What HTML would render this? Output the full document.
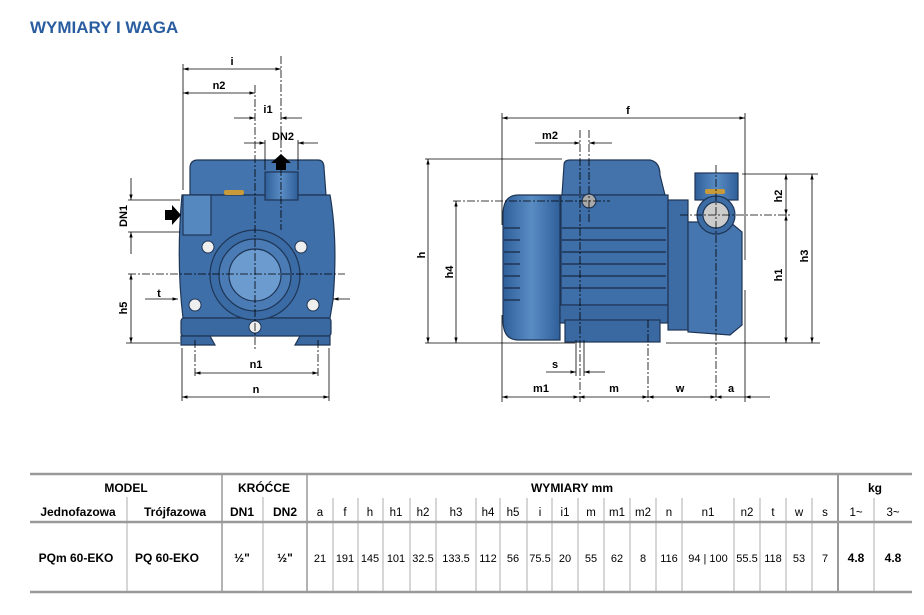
<!DOCTYPE html>
<html><head><meta charset="utf-8"><style>
body{margin:0;background:#fff;width:924px;height:615px;overflow:hidden;font-family:"Liberation Sans",sans-serif}
svg{position:absolute;left:0;top:0}
</style></head><body>
<svg width="924" height="615" viewBox="0 0 924 615" xmlns="http://www.w3.org/2000/svg" font-family="Liberation Sans, sans-serif">
<defs>
<marker id="ar" viewBox="0 0 10 10" refX="10" refY="5" markerWidth="7" markerHeight="7" orient="auto-start-reverse"><path d="M0,2 L10,5 L0,8 z" fill="#000"/></marker>
<linearGradient id="bl" x1="0" x2="1"><stop offset="0" stop-color="#2f5f99"/><stop offset=".5" stop-color="#5a8cc4"/><stop offset="1" stop-color="#2f5f99"/></linearGradient>
</defs>
<text x="30" y="33" font-size="17" font-weight="bold" fill="#2a5da0">WYMIARY I WAGA</text>

<!-- FRONT VIEW -->
<g stroke="#1e3555" stroke-width="1.2">
<path d="M190,168 Q190,160 198,160 L318,160 Q324,160 324,168 L326,195 L190,195 Z" fill="#4474ad"/>
<path d="M182,195 L330,195 Q338,240 333,300 L330,318 L183,318 Q176,260 182,195 Z" fill="#3f6fa8"/>
<rect x="181" y="318" width="150" height="18" rx="3" fill="#3a69a2"/>
<path d="M181,336 L210,336 L215,345 L181,345 Z M330,336 L300,336 L295,345 L330,345 Z" fill="#3a69a2"/>
<rect x="183" y="195" width="28" height="40" fill="#5688c0"/>
<rect x="265" y="172" width="33" height="28" fill="url(#bl)"/>
<circle cx="255" cy="275" r="45" fill="#3b6ba4"/>
<circle cx="255" cy="275" r="36" fill="#4a7bb4"/>
<circle cx="255" cy="275" r="26" fill="#6c9bd0"/>
</g>
<rect x="224" y="190" width="20" height="5" rx="2" fill="#c89a3a"/>
<g fill="#eee" stroke="#1e3555"><circle cx="208" cy="247" r="6"/><circle cx="301" cy="247" r="6"/><circle cx="195" cy="305" r="6"/><circle cx="313" cy="305" r="6"/><circle cx="255" cy="327" r="6"/></g>
<path d="M165,210 L172,210 L172,205 L181,215 L172,225 L172,220 L165,220 Z" fill="#000"/>
<path d="M276,170 L276,163 L271,163 L281,154 L291,163 L286,163 L286,170 Z" fill="#000"/>

<g stroke="#000" stroke-width="0.8" fill="none">
<line x1="183" y1="64" x2="183" y2="190"/>
<line x1="183" y1="69" x2="281" y2="69" marker-start="url(#ar)" marker-end="url(#ar)"/>
<line x1="183" y1="93" x2="255" y2="93" marker-start="url(#ar)" marker-end="url(#ar)"/>
<line x1="234" y1="118" x2="255" y2="118" marker-end="url(#ar)"/>
<line x1="302" y1="118" x2="281" y2="118" marker-end="url(#ar)"/>
<line x1="265" y1="140" x2="265" y2="170"/><line x1="298" y1="140" x2="298" y2="170"/>
<line x1="244" y1="143" x2="265" y2="143" marker-end="url(#ar)"/>
<line x1="318" y1="143" x2="298" y2="143" marker-end="url(#ar)"/>
<line x1="128" y1="200" x2="180" y2="200"/><line x1="128" y1="232" x2="180" y2="232"/>
<line x1="131" y1="178" x2="131" y2="200" marker-end="url(#ar)"/>
<line x1="131" y1="254" x2="131" y2="232" marker-end="url(#ar)"/>
<line x1="131" y1="274" x2="131" y2="343" marker-start="url(#ar)" marker-end="url(#ar)"/>
<line x1="126" y1="343" x2="180" y2="343"/>
<line x1="145" y1="299" x2="178" y2="299" marker-end="url(#ar)"/>
<line x1="350" y1="299" x2="333" y2="299" marker-end="url(#ar)"/>
<line x1="195" y1="373" x2="318" y2="373" marker-start="url(#ar)" marker-end="url(#ar)"/>
<line x1="182" y1="397" x2="329" y2="397" marker-start="url(#ar)" marker-end="url(#ar)"/>
<line x1="182" y1="348" x2="182" y2="401"/><line x1="329" y1="348" x2="329" y2="401"/>
<g stroke-dasharray="8,2,2,2"><line x1="281" y1="56" x2="281" y2="230"/><line x1="255" y1="85" x2="255" y2="350"/><line x1="128" y1="274" x2="345" y2="274"/><line x1="195" y1="340" x2="195" y2="377"/><line x1="318" y1="340" x2="318" y2="377"/></g>
</g>
<g font-size="11" font-weight="bold" text-anchor="middle">
<text x="232" y="65">i</text><text x="219" y="89">n2</text><text x="268" y="113">i1</text><text x="283" y="140">DN2</text>
<text x="159" y="297">t</text><text x="256" y="368">n1</text><text x="256" y="393">n</text>
<text transform="translate(127,216) rotate(-90)">DN1</text><text transform="translate(127,308) rotate(-90)">h5</text>
</g>

<!-- SIDE VIEW -->
<g stroke="#1e3555" stroke-width="1.2">
<path d="M518,195 L560,195 L560,340 L518,340 Q503,340 503,320 L503,215 Q503,195 518,195 Z" fill="url(#bl)"/>
<path d="M564,165 Q564,160 570,160 L650,160 Q660,162 660,175 L665,195 L562,195 Z" fill="#4473ac"/>
<rect x="561" y="195" width="107" height="110" fill="#3f6fa8"/>
<rect x="560" y="305" width="108" height="18" fill="#3a69a2"/>
<rect x="565" y="320" width="95" height="22" fill="#3a69a2"/>
<rect x="668" y="200" width="20" height="130" fill="#3d6ca5"/>
<path d="M688,222 L730,222 L742,232 L742,325 L730,335 L688,332 Z" fill="#4676b0"/>
<rect x="695" y="173" width="43" height="27" fill="url(#bl)"/>
<circle cx="716" cy="215" r="19" fill="#3d6ca5"/>
<circle cx="716" cy="215" r="13" fill="#ccc"/>
<circle cx="589" cy="201" r="7" fill="#aaa"/>
</g>
<g stroke="#1e3555" stroke-width="1.5">
<line x1="562" y1="228" x2="666" y2="228"/><line x1="562" y1="240" x2="666" y2="240"/><line x1="562" y1="252" x2="666" y2="252"/><line x1="562" y1="264" x2="666" y2="264"/><line x1="562" y1="276" x2="666" y2="276"/><line x1="562" y1="288" x2="666" y2="288"/>
<line x1="504" y1="228" x2="520" y2="228"/><line x1="504" y1="240" x2="520" y2="240"/><line x1="504" y1="252" x2="520" y2="252"/><line x1="504" y1="264" x2="520" y2="264"/><line x1="504" y1="276" x2="520" y2="276"/><line x1="504" y1="288" x2="520" y2="288"/><line x1="504" y1="300" x2="520" y2="300"/>
</g>
<rect x="705" y="189" width="20" height="5" rx="2" fill="#c89a3a"/>

<g stroke="#000" stroke-width="0.8" fill="none">
<line x1="502" y1="113" x2="502" y2="225"/><line x1="502" y1="315" x2="502" y2="402"/>
<line x1="745" y1="113" x2="745" y2="260"/><line x1="745" y1="290" x2="745" y2="402"/>
<line x1="502" y1="118" x2="745" y2="118" marker-start="url(#ar)" marker-end="url(#ar)"/>
<line x1="535" y1="143" x2="580" y2="143" marker-end="url(#ar)"/>
<line x1="612" y1="143" x2="589" y2="143" marker-end="url(#ar)"/>
<line x1="425" y1="159" x2="562" y2="159"/>
<line x1="425" y1="343" x2="575" y2="343"/><line x1="666" y1="343" x2="820" y2="343"/>
<line x1="428" y1="159" x2="428" y2="343" marker-start="url(#ar)" marker-end="url(#ar)"/>
<line x1="456" y1="201" x2="456" y2="343" marker-start="url(#ar)" marker-end="url(#ar)"/>
<line x1="742" y1="174" x2="818" y2="174"/>
<line x1="786" y1="174" x2="786" y2="215" marker-start="url(#ar)" marker-end="url(#ar)"/>
<line x1="786" y1="215" x2="786" y2="343" marker-start="url(#ar)" marker-end="url(#ar)"/>
<line x1="812" y1="174" x2="812" y2="343" marker-start="url(#ar)" marker-end="url(#ar)"/>
<line x1="576" y1="340" x2="576" y2="376"/><line x1="584" y1="340" x2="584" y2="376"/>
<line x1="546" y1="372" x2="576" y2="372" marker-end="url(#ar)"/>
<line x1="605" y1="372" x2="584" y2="372" marker-end="url(#ar)"/>
<line x1="502" y1="397" x2="579" y2="397" marker-start="url(#ar)" marker-end="url(#ar)"/>
<line x1="579" y1="397" x2="648" y2="397" marker-start="url(#ar)" marker-end="url(#ar)"/>
<line x1="648" y1="397" x2="716" y2="397" marker-start="url(#ar)" marker-end="url(#ar)"/>
<line x1="716" y1="397" x2="745" y2="397" marker-start="url(#ar)"/>
<line x1="770" y1="397" x2="745" y2="397" marker-end="url(#ar)"/>
<g stroke-dasharray="8,2,2,2"><line x1="453" y1="201" x2="610" y2="201"/><line x1="680" y1="215" x2="790" y2="215"/>
<line x1="580" y1="130" x2="580" y2="402"/><line x1="589" y1="130" x2="589" y2="222"/><line x1="648" y1="320" x2="648" y2="402"/><line x1="716" y1="165" x2="716" y2="402"/></g>
</g>
<g font-size="11" font-weight="bold" text-anchor="middle">
<text x="628" y="114">f</text><text x="550" y="139">m2</text><text x="555" y="368">s</text>
<text x="541" y="392">m1</text><text x="614" y="392">m</text><text x="680" y="392">w</text><text x="731" y="392">a</text>
<text transform="translate(425,255) rotate(-90)">h</text><text transform="translate(453,272) rotate(-90)">h4</text>
<text transform="translate(782,196) rotate(-90)">h2</text><text transform="translate(782,275) rotate(-90)">h1</text><text transform="translate(808,256) rotate(-90)">h3</text>
</g>

<!-- TABLE -->
<g stroke="#999" fill="none">
<line x1="30" y1="474" x2="912" y2="474" stroke-width="2.5"/>
<line x1="30" y1="522" x2="912" y2="522" stroke-width="2.5"/>
<line x1="30" y1="592" x2="912" y2="592" stroke-width="2.5"/>
<line x1="222" y1="474" x2="222" y2="592" stroke-width="1.5"/>
<line x1="307" y1="474" x2="307" y2="592" stroke-width="1.5"/>
<line x1="838" y1="474" x2="838" y2="592" stroke-width="2"/>
<g stroke-width="0.8">
<line x1="127" y1="497" x2="127" y2="592"/><line x1="263" y1="497" x2="263" y2="592"/>
<line x1="333" y1="498" x2="333" y2="592"/><line x1="358" y1="498" x2="358" y2="592"/><line x1="383" y1="498" x2="383" y2="592"/><line x1="410" y1="498" x2="410" y2="592"/><line x1="436" y1="498" x2="436" y2="592"/><line x1="476" y1="498" x2="476" y2="592"/><line x1="500" y1="498" x2="500" y2="592"/><line x1="527" y1="498" x2="527" y2="592"/><line x1="552" y1="498" x2="552" y2="592"/><line x1="578" y1="498" x2="578" y2="592"/><line x1="604" y1="498" x2="604" y2="592"/><line x1="630" y1="498" x2="630" y2="592"/><line x1="656" y1="498" x2="656" y2="592"/><line x1="682" y1="498" x2="682" y2="592"/><line x1="734" y1="498" x2="734" y2="592"/><line x1="760" y1="498" x2="760" y2="592"/><line x1="786" y1="498" x2="786" y2="592"/><line x1="812" y1="498" x2="812" y2="592"/><line x1="874" y1="498" x2="874" y2="592"/>
</g></g>
<g font-size="12" text-anchor="middle" fill="#000">
<g font-weight="bold"><text x="126" y="492">MODEL</text><text x="264" y="492">KRÓĆCE</text><text x="572" y="492">WYMIARY mm</text><text x="875" y="492">kg</text>
<text x="78" y="516">Jednofazowa</text><text x="175" y="516">Trójfazowa</text><text x="242" y="516">DN1</text><text x="285" y="516">DN2</text>
<text x="76" y="562">PQm 60-EKO</text><text x="167" y="562">PQ 60-EKO</text><text x="242" y="562">½"</text><text x="285" y="562">½"</text><text x="856" y="562">4.8</text><text x="893" y="562">4.8</text></g>
<g font-size="11.5">
<text x="320" y="516">a</text><text x="345" y="516">f</text><text x="370" y="516">h</text><text x="396" y="516">h1</text><text x="423" y="516">h2</text><text x="456" y="516">h3</text><text x="488" y="516">h4</text><text x="513" y="516">h5</text><text x="540" y="516">i</text><text x="565" y="516">i1</text><text x="591" y="516">m</text><text x="617" y="516">m1</text><text x="643" y="516">m2</text><text x="669" y="516">n</text><text x="708" y="516">n1</text><text x="747" y="516">n2</text><text x="773" y="516">t</text><text x="799" y="516">w</text><text x="825" y="516">s</text><text x="856" y="516">1~</text><text x="893" y="516">3~</text>
</g>
<g font-size="11">
<text x="320" y="562">21</text><text x="345" y="562">191</text><text x="370" y="562">145</text><text x="396" y="562">101</text><text x="423" y="562">32.5</text><text x="456" y="562">133.5</text><text x="488" y="562">112</text><text x="513" y="562">56</text><text x="540" y="562">75.5</text><text x="565" y="562">20</text><text x="591" y="562">55</text><text x="617" y="562">62</text><text x="643" y="562">8</text><text x="669" y="562">116</text><text x="708" y="562">94 | 100</text><text x="747" y="562">55.5</text><text x="773" y="562">118</text><text x="799" y="562">53</text><text x="825" y="562">7</text>
</g>
</g>
</svg>
</body></html>
